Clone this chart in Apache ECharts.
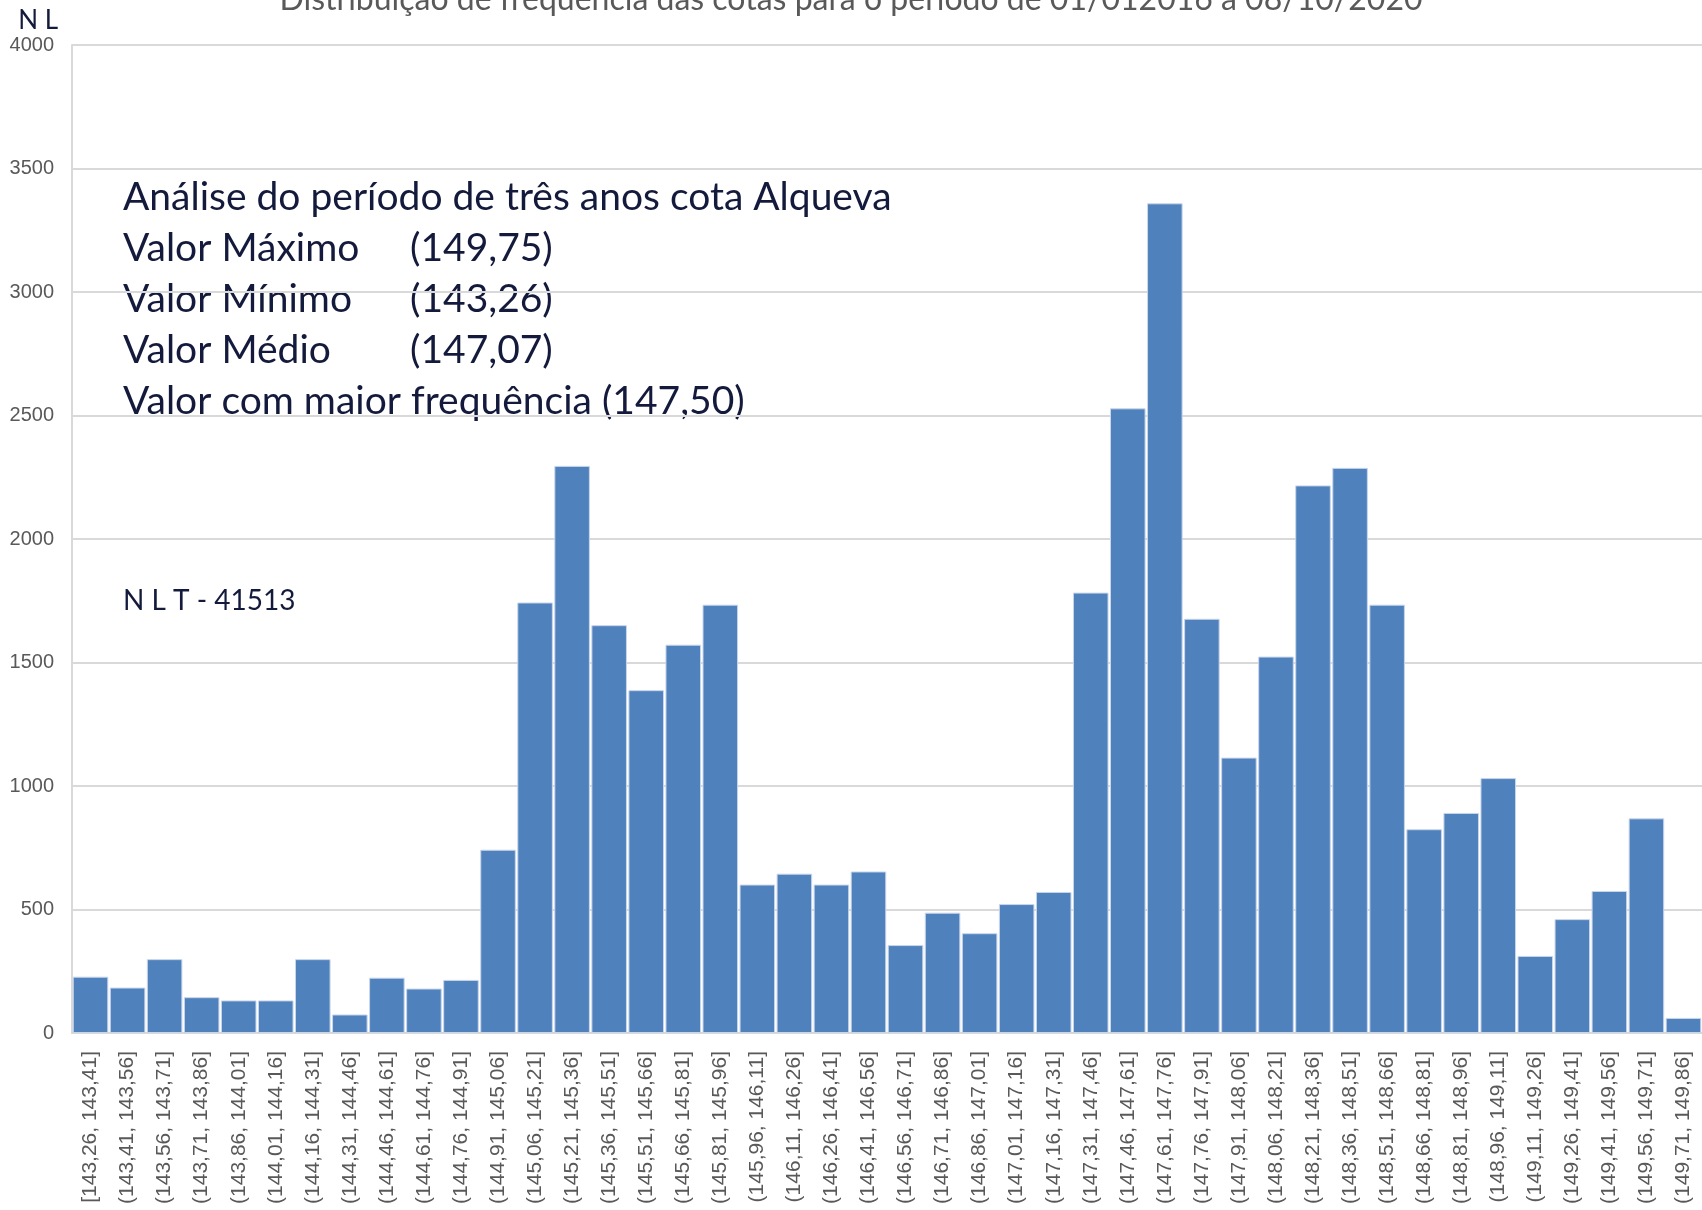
<!DOCTYPE html>
<html>
<head>
<meta charset="utf-8">
<script src="https://cdn.jsdelivr.net/npm/echarts@6/dist/echarts.min.js"></script>
<style>
  html, body { margin: 0; padding: 0; background: #fff; }
  #chart { width: 1702px; height: 1210px; }
</style>
</head>
<body>
<div id="chart"></div>
<script>
// classes (cotas) e frequências
const classes = [
  "[143,26, 143,41]", "(143,41, 143,56]", "(143,56, 143,71]", "(143,71, 143,86]",
  "(143,86, 144,01]", "(144,01, 144,16]", "(144,16, 144,31]", "(144,31, 144,46]",
  "(144,46, 144,61]", "(144,61, 144,76]", "(144,76, 144,91]", "(144,91, 145,06]",
  "(145,06, 145,21]", "(145,21, 145,36]", "(145,36, 145,51]", "(145,51, 145,66]",
  "(145,66, 145,81]", "(145,81, 145,96]", "(145,96, 146,11]", "(146,11, 146,26]",
  "(146,26, 146,41]", "(146,41, 146,56]", "(146,56, 146,71]", "(146,71, 146,86]",
  "(146,86, 147,01]", "(147,01, 147,16]", "(147,16, 147,31]", "(147,31, 147,46]",
  "(147,46, 147,61]", "(147,61, 147,76]", "(147,76, 147,91]", "(147,91, 148,06]",
  "(148,06, 148,21]", "(148,21, 148,36]", "(148,36, 148,51]", "(148,51, 148,66]",
  "(148,66, 148,81]", "(148,81, 148,96]", "(148,96, 149,11]", "(149,11, 149,26]",
  "(149,26, 149,41]", "(149,41, 149,56]", "(149,56, 149,71]", "(149,71, 149,86]"
];
const frequencias = [
  228, 184, 299, 145, 132, 132, 299, 75, 224, 180, 215, 742,
  1743, 2296, 1651, 1388, 1572, 1734, 601, 645, 601, 654,
  356, 487, 404, 522, 571, 1783, 2529, 3359, 1677, 1115,
  1524, 2217, 2288, 1734, 825, 891, 1032, 312, 461, 575, 869, 61
];
const yTicks = { min: 0, max: 4000, interval: 500 };

const titulo = "Distribuição de frequência das cotas para o período de 01/012016 a 08/10/2020";
const notas = [
  ["Análise do período de três anos cota Alqueva", ""],
  ["Valor Máximo", "(149,75)"],
  ["Valor Mínimo", "(143,26)"],
  ["Valor Médio", "(147,07)"],
  ["Valor com maior frequência (147,50)", ""]
];
const nlt = "N L T - 41513";

const NAVY = "#141a3c";
const GREY = "#595959";

// blocos de texto do canto superior esquerdo
const graphics = [];
notas.forEach((n, i) => {
  const y = 199 + i * 51;
  graphics.push({
    type: "text", left: 123, top: y - 21,
    style: { text: n[0], font: "39px Lato", fill: NAVY }
  });
  if (n[1]) {
    graphics.push({
      type: "text", left: 410, top: y - 21,
      style: { text: n[1], font: "39px Lato", fill: NAVY }
    });
  }
});
graphics.push({
  type: "text", left: 123, top: 587,
  style: { text: nlt, font: "28px Lato", fill: NAVY }
});

const chart = echarts.init(document.getElementById("chart"));
chart.setOption({
  animation: false,
  title: {
    text: titulo,
    left: "center",
    top: -21,
    textStyle: { fontFamily: "Lato", fontSize: 32, fontWeight: "normal", color: GREY }
  },
  grid: { left: 72, right: -1, top: 45, bottom: 177, containLabel: false },
  xAxis: {
    type: "category",
    data: classes,
    axisLine: { lineStyle: { color: "#d9d9d9", width: 2 } },
    axisTick: { show: false },
    axisLabel: {
      rotate: 90,
      interval: 0,
      margin: 18,
      fontFamily: "Liberation Sans",
      fontSize: 21,
      color: GREY
    }
  },
  yAxis: {
    type: "value",
    min: yTicks.min,
    max: yTicks.max,
    interval: yTicks.interval,
    name: "N L",
    nameLocation: "end",
    nameGap: 11,
    nameTextStyle: { fontFamily: "Lato", fontSize: 26, color: NAVY, align: "right", padding: [0, 14, 0, 0] },
    axisLine: { show: true, lineStyle: { color: "#d9d9d9", width: 2 } },
    axisTick: { show: false },
    splitLine: { lineStyle: { color: "#d9d9d9", width: 2 } },
    axisLabel: {
      margin: 18,
      fontFamily: "Liberation Sans",
      fontSize: 20,
      color: GREY,
      formatter: (v) => String(v)
    }
  },
  series: [
    {
      type: "bar",
      data: frequencias,
      barCategoryGap: "4%",
      itemStyle: { color: "#4f81bd", borderColor: "#c9d6ea", borderWidth: 1 }
    }
  ],
  graphic: graphics
});
</script>
</body>
</html>
